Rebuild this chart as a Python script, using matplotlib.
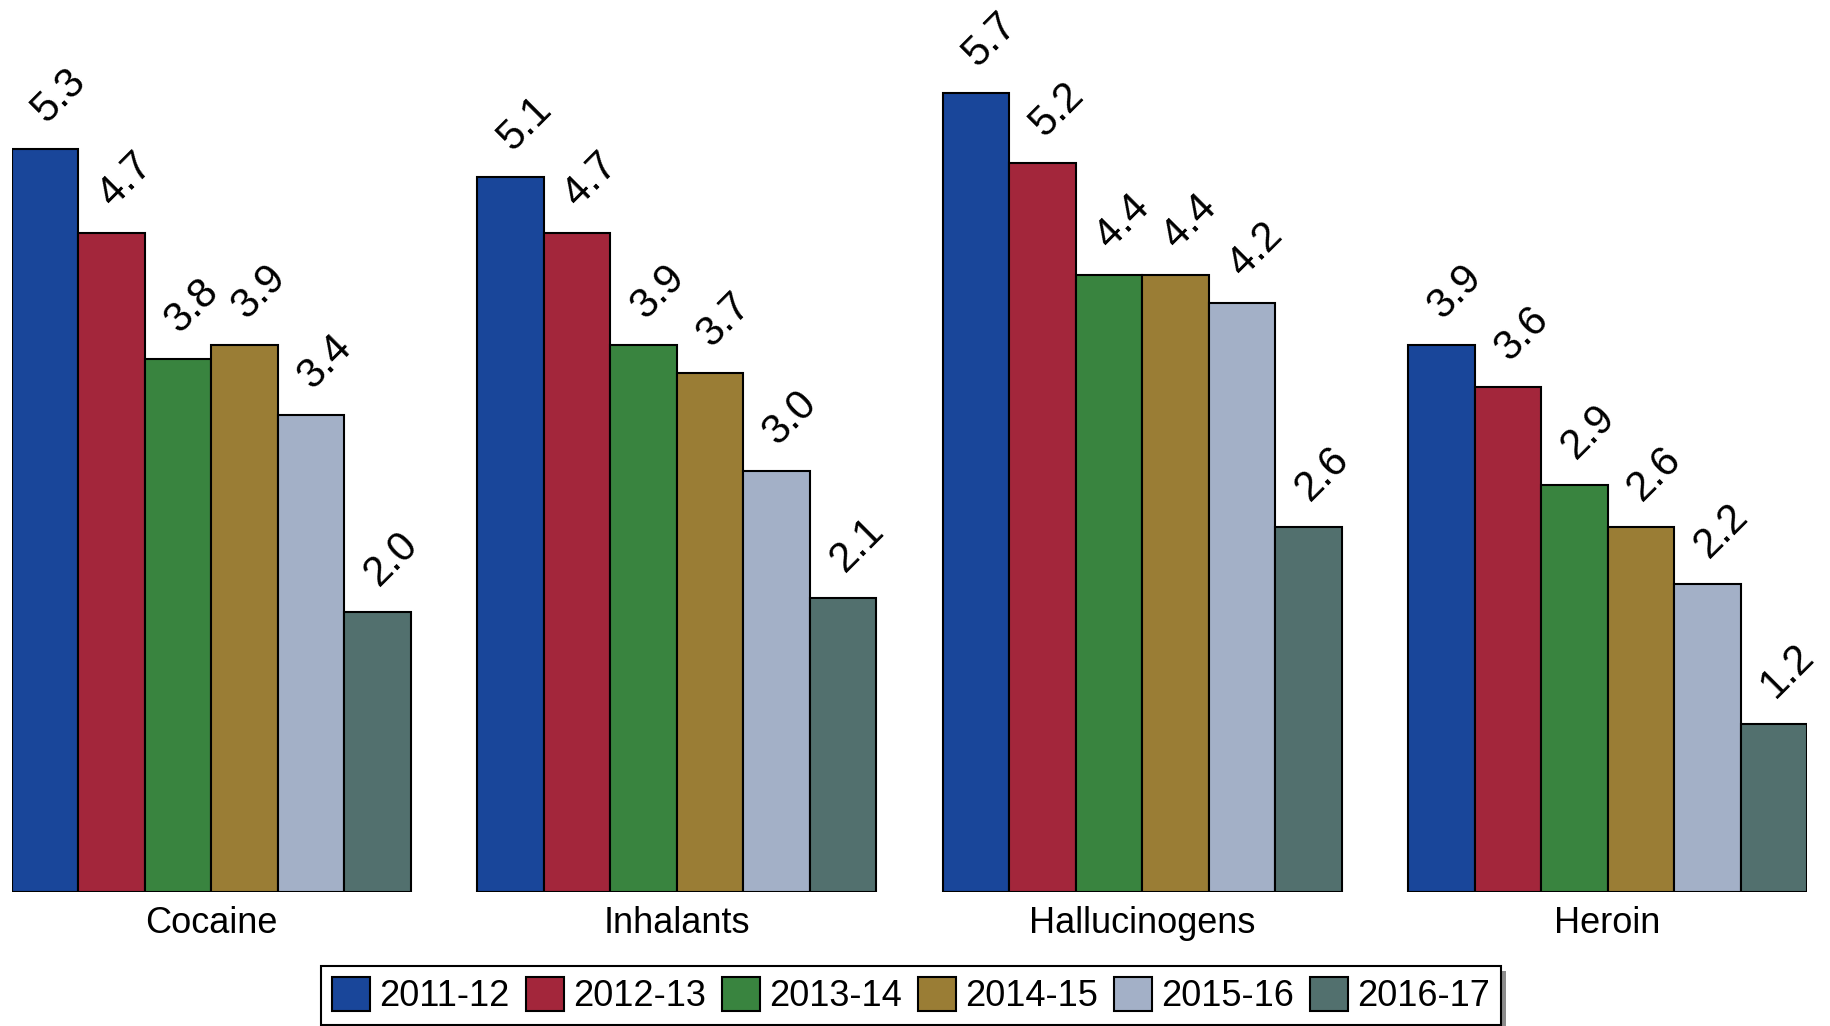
import matplotlib
matplotlib.use("Agg")
import matplotlib.pyplot as plt
from matplotlib.patches import Rectangle, Patch
import numpy as np

plt.rcParams['font.family'] = ['Liberation Sans', 'DejaVu Sans']

# data
drugs = ['Cocaine', 'Inhalants', 'Hallucinogens', 'Heroin']
years = ['2011-12', '2012-13', '2013-14', '2014-15', '2015-16', '2016-17']
cocaine = [5.3, 4.7, 3.8, 3.9, 3.4, 2.0]
inhalants = [5.1, 4.7, 3.9, 3.7, 3.0, 2.1]
hallucinogens = [5.7, 5.2, 4.4, 4.4, 4.2, 2.6]
heroin = [3.9, 3.6, 2.9, 2.6, 2.2, 1.2]

colors = ['#19469a', '#a3263b', '#39843f', '#9a7d35', '#a3b0c7', '#52706e']

values = np.array([cocaine, inhalants, hallucinogens, heroin])

W, H = 1831, 1026
fig = plt.figure(figsize=(W / 100, H / 100), dpi=100)
ax = fig.add_axes([12 / W, (H - 892) / H, 1795 / W, 892 / H])

group_step = 7
for j, year in enumerate(years):
    xs = np.arange(len(drugs)) * group_step + j
    ax.bar(xs, values[:, j], width=1.0, color=colors[j],
           edgecolor='black', linewidth=1.5, label=year)
    for x, v in zip(xs, values[:, j]):
        ax.annotate(f'{v:.1f}', xy=(x, v), xytext=(1, 18),
                    textcoords='offset points', rotation=45,
                    rotation_mode='anchor', ha='left', va='baseline',
                    fontsize=30, annotation_clip=False)

ax.set_xlim(-0.5, group_step * 3 + 5.5)
ax.set_ylim(0, 892 / 140.2)
ax.set_xticks(np.arange(len(drugs)) * group_step + 2.5)
ax.set_xticklabels(drugs, fontsize=26)
ax.tick_params(axis='x', length=0, pad=10)
ax.set_yticks([])
for s in ax.spines.values():
    s.set_visible(False)

handles = [Patch(facecolor=c, edgecolor='black', linewidth=1.5) for c in colors]
leg = fig.legend(handles, years, loc='lower center', ncol=6, fontsize=26,
                 bbox_to_anchor=(911 / W, 1 / H), borderaxespad=0,
                 frameon=True, fancybox=False, framealpha=1,
                 facecolor='white', handlelength=1.05,
                 handleheight=1.05, handletextpad=0.25, columnspacing=0.45,
                 borderpad=0.3)
leg.get_frame().set_edgecolor('black')
leg.get_frame().set_linewidth(1.5)

# drop shadow behind the legend box
fig.canvas.draw()
bb = leg.get_window_extent()
shadow = Rectangle((bb.x0 + 5, bb.y0 - 5), bb.width, bb.height,
                   transform=None, facecolor='#8c8c8c', edgecolor='none',
                   zorder=leg.get_zorder() - 0.5)
fig.add_artist(shadow)

fig.savefig('out.png', dpi=100)
